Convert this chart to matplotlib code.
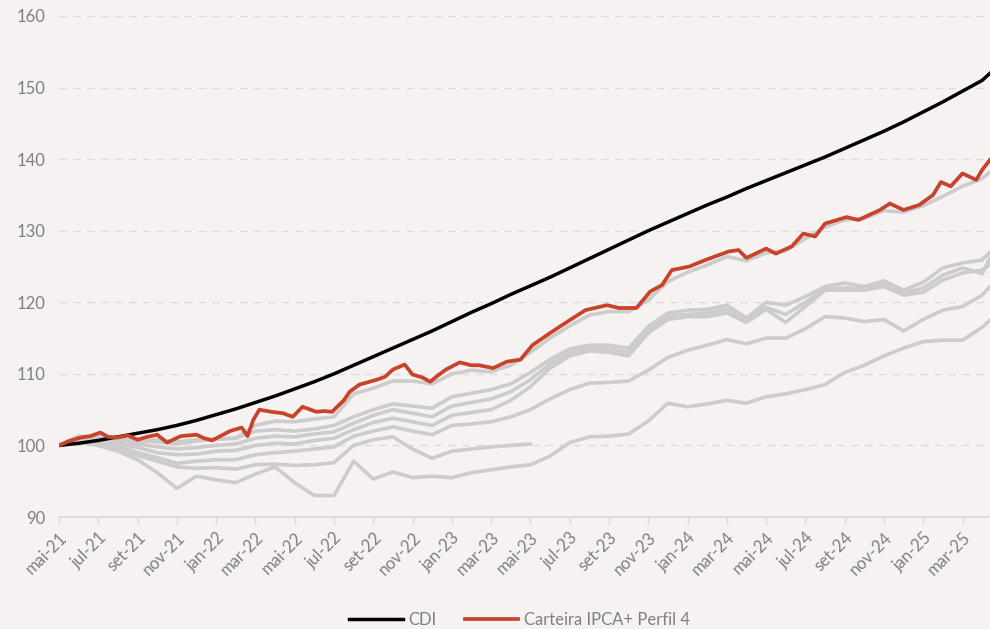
import numpy as np
import matplotlib
matplotlib.use("Agg")
import matplotlib.pyplot as plt

plt.rcParams['font.family'] = ['Lato', 'DejaVu Sans']

# meses desde mai-21 (0 = mai-21); ultimo ponto ~ meados de abr-25
meses = list(range(48)) + [47.4]

rotulos_x = ['mai-21', 'jul-21', 'set-21', 'nov-21', 'jan-22', 'mar-22', 'mai-22', 'jul-22',
             'set-22', 'nov-22', 'jan-23', 'mar-23', 'mai-23', 'jul-23', 'set-23', 'nov-23',
             'jan-24', 'mar-24', 'mai-24', 'jul-24', 'set-24', 'nov-24', 'jan-25', 'mar-25']

cdi = [100.0, 100.3, 100.7, 101.2, 101.7, 102.2, 102.8, 103.5, 104.3, 105.1,
       106.0, 106.9, 107.9, 108.9, 110.0, 111.2, 112.4, 113.6, 114.8, 116.0,
       117.3, 118.6, 119.8, 121.1, 122.3, 123.5, 124.8, 126.1, 127.4, 128.7,
       130.0, 131.2, 132.4, 133.6, 134.7, 135.9, 137.0, 138.1, 139.2, 140.3,
       141.5, 142.7, 143.9, 145.2, 146.6, 148.0, 149.5, 151.0, 152.0]

# Carteira IPCA+ Perfil 4 (pontos lidos em datas irregulares)
meses_carteira = [0, 0.5, 1.1, 1.6, 2.1, 2.5, 2.95, 3.5, 4.0, 4.5, 5.0, 5.5, 6.2, 7.0, 7.4,
                  7.8, 8.7, 9.3, 9.6, 9.9, 10.2, 10.8, 11.4, 11.9, 12.4, 12.6, 13.1, 13.5,
                  13.9, 14.5, 14.8, 15.3, 16.2, 16.6, 17.0, 17.6, 18.0, 18.5, 18.9, 19.3,
                  19.7, 20.4, 21.0, 21.4, 22.1, 22.8, 23.5, 24.1, 25.0, 26.0, 26.8, 27.9,
                  28.5, 29.4, 30.1, 30.7, 31.2, 32.1, 32.9, 34.1, 34.6, 35.0, 36.0, 36.5,
                  37.3, 37.9, 38.5, 39.0, 40.1, 40.7, 41.8, 42.3, 43.0, 43.8, 44.5, 44.9,
                  45.4, 46.0, 46.7, 47.0, 47.4]
carteira = [100.0, 100.6, 101.1, 101.3, 101.8, 101.2, 101.1, 101.4, 100.8, 101.2, 101.5,
            100.4, 101.3, 101.5, 101.0, 100.7, 102.0, 102.5, 101.3, 103.6, 105.0, 104.7,
            104.5, 104.0, 105.4, 105.2, 104.7, 104.8, 104.7, 106.3, 107.5, 108.5, 109.2,
            109.6, 110.6, 111.3, 109.9, 109.5, 108.9, 109.8, 110.6, 111.6, 111.2, 111.2,
            110.8, 111.7, 112.0, 114.0, 115.7, 117.5, 118.9, 119.6, 119.2, 119.2, 121.5,
            122.4, 124.5, 125.0, 125.9, 127.1, 127.3, 126.2, 127.5, 126.8, 127.8, 129.6,
            129.2, 131.0, 131.9, 131.5, 132.9, 133.8, 132.9, 133.6, 135.0, 136.8, 136.2,
            138.0, 137.1, 138.5, 139.9]

# demais carteiras (cinza)
cinza_1 = [100.0, 100.9, 101.0, 100.8, 100.5, 100.8, 100.5, 100.8, 100.9, 101.0,
           102.8, 103.4, 103.3, 103.7, 104.0, 107.2, 108.0, 109.0, 109.0, 108.6,
           110.0, 110.5, 110.3, 111.2, 113.0, 115.0, 116.7, 118.2, 118.7, 118.7,
           120.3, 122.9, 124.2, 125.2, 126.4, 125.8, 126.9, 127.2, 128.9, 130.5,
           131.5, 131.7, 132.8, 132.6, 133.5, 134.8, 136.2, 137.3, 138.2]
cinza_2 = [100.0, 101.3, 101.2, 101.0, 100.7, 100.5, 100.2, 100.6, 100.9, 101.0,
           102.0, 102.2, 102.0, 102.3, 102.8, 104.0, 105.0, 105.8, 105.5, 105.2,
           106.8, 107.3, 107.8, 108.6, 110.2, 112.0, 113.5, 114.0, 114.0, 113.6,
           116.6, 118.5, 118.9, 119.0, 119.6, 117.8, 120.0, 119.6, 120.8, 122.2,
           122.7, 122.2, 123.0, 121.7, 122.8, 124.8, 125.5, 125.9, 127.0]
cinza_3 = [100.0, 101.0, 101.0, 100.5, 100.2, 99.8, 99.5, 99.7, 100.0, 100.2,
           101.0, 101.3, 101.2, 101.6, 101.9, 103.1, 104.2, 105.0, 104.5, 104.0,
           105.5, 106.0, 106.5, 107.5, 109.2, 111.4, 113.0, 113.6, 113.5, 113.0,
           116.0, 118.0, 118.3, 118.5, 119.0, 117.5, 119.3, 118.3, 120.0, 121.9,
           122.0, 121.9, 122.5, 121.3, 122.0, 123.8, 124.8, 124.0, 126.2]
cinza_4 = [100.0, 100.8, 100.6, 100.2, 99.7, 99.0, 98.7, 98.8, 99.2, 99.3,
           100.0, 100.3, 100.2, 100.7, 101.0, 102.2, 103.2, 103.8, 103.3, 102.8,
           104.2, 104.6, 105.0, 106.3, 108.2, 110.8, 112.5, 113.2, 113.0, 112.5,
           115.7, 117.6, 118.0, 118.0, 118.5, 117.2, 119.0, 117.2, 119.4, 121.7,
           121.7, 121.7, 122.2, 121.0, 121.4, 123.1, 124.1, 124.5, 125.3]
cinza_5 = [100.0, 100.6, 100.4, 99.8, 99.0, 98.3, 97.5, 97.8, 98.0, 98.0,
           98.7, 99.0, 99.2, 99.5, 99.8, 101.3, 102.0, 102.6, 102.0, 101.5,
           102.8, 103.0, 103.3, 104.0, 105.0, 106.5, 107.8, 108.7, 108.8, 109.0,
           110.5, 112.3, 113.3, 114.0, 114.8, 114.2, 115.0, 115.0, 116.3, 118.0,
           117.8, 117.3, 117.6, 116.0, 117.6, 118.9, 119.4, 121.0, 122.2]
cinza_6 = [100.0, 100.4, 100.1, 99.5, 98.6, 97.8, 97.0, 96.8, 96.9, 96.7,
           97.3, 97.4, 97.2, 97.3, 97.6, 100.0, 100.8, 101.2, 99.5, 98.2,
           99.2, 99.5, 99.8, 100.0, 100.2]
cinza_7 = [100.0, 100.6, 100.0, 99.2, 98.0, 96.2, 94.0, 95.7, 95.2, 94.8,
           96.0, 97.0, 94.8, 93.0, 93.0, 97.8, 95.3, 96.3, 95.5, 95.7,
           95.5, 96.2, 96.6, 97.0, 97.3, 98.5, 100.4, 101.2, 101.3, 101.6,
           103.4, 105.9, 105.4, 105.8, 106.3, 105.9, 106.8, 107.2, 107.8, 108.5,
           110.2, 111.2, 112.5, 113.6, 114.5, 114.7, 114.7, 116.5, 117.5]

cor_fundo = "#F5F2F1"
cor_texto = "#7F7F7F"

fig = plt.figure(figsize=(9.9, 6.29), dpi=100, facecolor=cor_fundo)
ax = fig.add_axes([59 / 990, 1 - 517 / 629, 1 - 59 / 990, 501 / 629])
ax.set_facecolor(cor_fundo)

for serie in [cinza_1, cinza_2, cinza_3, cinza_4, cinza_5, cinza_6, cinza_7]:
    ax.plot(meses[:len(serie)], serie, color="#CDCBCB", lw=2.6, solid_capstyle="round")

ax.plot(meses, cdi, color="black", lw=2.5, label="CDI")
ax.plot(meses_carteira, carteira, color="#C8432B", lw=2.7, label="Carteira IPCA+ Perfil 4")

ax.set_xlim(0, 47.4)
ax.set_ylim(90, 160)
ax.set_yticks(np.arange(90, 161, 10))
ax.grid(axis="y", color="#DEDBD9", lw=1, ls=(0, (5.5, 4.5)))
ax.set_axisbelow(True)

ax.set_xticks(np.arange(0, 47, 2))
ax.set_xticklabels(rotulos_x, rotation=45, ha="right", rotation_mode="anchor")

for lado in ["left", "right", "top"]:
    ax.spines[lado].set_visible(False)
ax.spines["bottom"].set_color("#D9D9D9")
ax.spines["bottom"].set_linewidth(1.2)
ax.tick_params(axis="x", colors="#D9D9D9", length=5, width=1, labelcolor=cor_texto, labelsize=12, pad=4)
ax.tick_params(axis="y", length=0, labelcolor=cor_texto, labelsize=12, pad=10)

fig.legend(loc="center", bbox_to_anchor=(0.525, 0.015), ncol=2, frameon=False,
           fontsize=12, labelcolor=cor_texto, handlelength=3.2, handletextpad=0.35,
           columnspacing=1.7)

plt.savefig("out.png", dpi=100, facecolor=cor_fundo)
